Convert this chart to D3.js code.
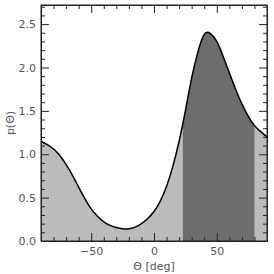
<!DOCTYPE html>
<html>
<head>
<meta charset="utf-8">
<script src="https://cdn.jsdelivr.net/npm/d3@7"></script>
<style>
  body { margin: 0; background: #fff; }
  text { font-family: "DejaVu Sans", sans-serif; fill: #555; }
</style>
</head>
<body>
<svg id="chart" width="274" height="274"></svg>
<script>
// angle grid (deg) and p(theta)
const thetas = [-90, -85, -80, -75, -70, -65, -60, -55, -50, -45, -40, -35, -30, -25, -20, -15, -10, -5,
                0, 5, 10, 15, 20, 25, 30, 35, 40, 45, 50, 55, 60, 65, 70, 75, 80, 85, 90];
const pValues = [1.15, 1.11, 1.06, 0.985, 0.88, 0.76, 0.62, 0.485, 0.37, 0.285, 0.22, 0.18, 0.155, 0.14, 0.14, 0.16, 0.20, 0.26,
                 0.34, 0.46, 0.63, 0.86, 1.15, 1.50, 1.88, 2.18, 2.38, 2.39, 2.30, 2.13, 1.94, 1.75, 1.58, 1.44, 1.33, 1.26, 1.20];
const shadeRange = [23, 80];
const xMajorTicks = [-50, 0, 50];
const yMajorTicks = [0, 0.5, 1.0, 1.5, 2.0, 2.5];

const data = thetas.map((t, i) => ({ t: t, p: pValues[i] }));

const svg = d3.select('#chart');
const margin = { top: 5, right: 7, bottom: 33, left: 41 };
const width = 274 - margin.left - margin.right;
const height = 274 - margin.top - margin.bottom;

const x = d3.scaleLinear().domain([-90, 90]).range([0, width]);
const y = d3.scaleLinear().domain([0, 2.72]).range([height, 0]);

const g = svg.append('g').attr('transform', `translate(${margin.left},${margin.top})`);

// faint vertical bin lines inside the fill
const defs = svg.append('defs');
const binW = x(-88) - x(-90);
const pat = defs.append('pattern')
    .attr('id', 'bins')
    .attr('patternUnits', 'userSpaceOnUse')
    .attr('width', binW)
    .attr('height', 10);
pat.append('rect').attr('width', 10).attr('height', 10).attr('fill', '#bebebe');
pat.append('line').attr('x1', 0.5).attr('x2', 0.5).attr('y1', 0).attr('y2', 10)
    .attr('stroke', '#b3b3b3').attr('stroke-width', 0.6);

const patD = defs.append('pattern')
    .attr('id', 'binsDark')
    .attr('patternUnits', 'userSpaceOnUse')
    .attr('width', binW)
    .attr('height', 10);
patD.append('rect').attr('width', 10).attr('height', 10).attr('fill', '#6f6f6f');
patD.append('line').attr('x1', 0.5).attr('x2', 0.5).attr('y1', 0).attr('y2', 10)
    .attr('stroke', '#666').attr('stroke-width', 0.6);

defs.append('clipPath').attr('id', 'shadeClip')
    .append('rect')
    .attr('x', x(shadeRange[0]))
    .attr('y', 0)
    .attr('width', x(shadeRange[1]) - x(shadeRange[0]))
    .attr('height', height);

const area = d3.area()
    .x(d => x(d.t))
    .y0(y(0))
    .y1(d => y(d.p))
    .curve(d3.curveNatural);

const line = d3.line()
    .x(d => x(d.t))
    .y(d => y(d.p))
    .curve(d3.curveNatural);

g.append('path').datum(data).attr('d', area).attr('fill', 'url(#bins)');
g.append('path').datum(data).attr('d', area).attr('fill', 'url(#binsDark)')
    .attr('clip-path', 'url(#shadeClip)');
g.append('path').datum(data).attr('d', line)
    .attr('fill', 'none').attr('stroke', '#000').attr('stroke-width', 1.5);

// axes: ticks inside on all four sides
const xMinor = d3.range(-80, 90, 10).filter(v => !xMajorTicks.includes(v));
const yMinor = d3.range(0, 2.71, 0.1).map(v => +v.toFixed(1)).filter(v => !yMajorTicks.includes(v));

function addAxis(axis, transform) {
    const a = g.append('g').attr('transform', transform).call(axis);
    a.select('.domain').attr('stroke', '#222');
    a.selectAll('.tick line').attr('stroke', '#222');
    a.selectAll('text').style('font-size', '11px').attr('fill', '#555');
    return a;
}

addAxis(d3.axisBottom(x).tickValues(xMajorTicks).tickSizeInner(-8).tickSizeOuter(0)
    .tickPadding(6).tickFormat(d => d < 0 ? '\u2212' + Math.abs(d) : d), `translate(0,${height})`);
addAxis(d3.axisBottom(x).tickValues(xMinor).tickSizeInner(-4).tickSizeOuter(0).tickFormat(''), `translate(0,${height})`);
addAxis(d3.axisTop(x).tickValues(xMajorTicks).tickSizeInner(-8).tickSizeOuter(0).tickFormat(''), 'translate(0,0)');
addAxis(d3.axisTop(x).tickValues(xMinor).tickSizeInner(-4).tickSizeOuter(0).tickFormat(''), 'translate(0,0)');

addAxis(d3.axisLeft(y).tickValues(yMajorTicks).tickSizeInner(-8).tickSizeOuter(0)
    .tickPadding(5).tickFormat(d3.format('.1f')), 'translate(0,0)');
addAxis(d3.axisLeft(y).tickValues(yMinor).tickSizeInner(-4).tickSizeOuter(0).tickFormat(''), 'translate(0,0)');
addAxis(d3.axisRight(y).tickValues(yMajorTicks).tickSizeInner(-8).tickSizeOuter(0).tickFormat(''), `translate(${width},0)`);
addAxis(d3.axisRight(y).tickValues(yMinor).tickSizeInner(-4).tickSizeOuter(0).tickFormat(''), `translate(${width},0)`);

// frame
g.append('rect').attr('width', width).attr('height', height)
    .attr('fill', 'none').attr('stroke', '#222').attr('stroke-width', 1);

// axis titles
svg.append('text')
    .attr('x', margin.left + width / 2)
    .attr('y', 270)
    .attr('text-anchor', 'middle')
    .style('font-size', '11px')
    .text('\u0398 [deg]');

svg.append('text')
    .attr('transform', `translate(14,${margin.top + height / 2}) rotate(-90)`)
    .attr('text-anchor', 'middle')
    .style('font-size', '11px')
    .text('p(\u0398)');
</script>
</body>
</html>
